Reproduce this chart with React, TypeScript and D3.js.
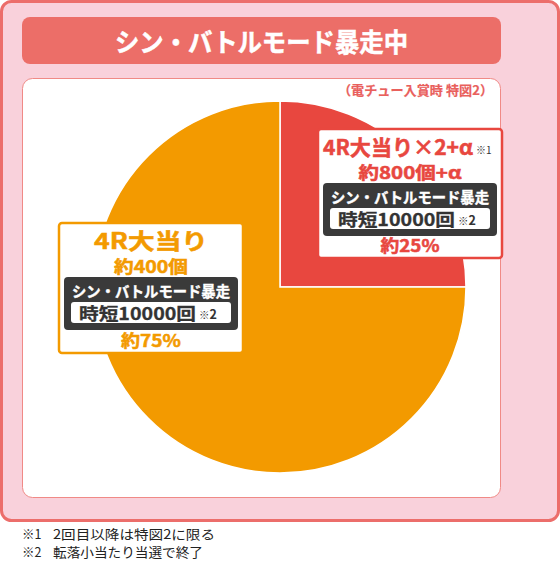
import { useMemo } from "react"
import * as d3 from "d3"

// slices, in clockwise order from 12 o'clock
const sliceKeys = ["bonus2", "bonus1"]
const sliceValues = [25, 75]
const sliceColors = ["#E8473F", "#F39A00"]

const titleText = "シン・バトルモード暴走中"
const subText = "（電チュー入賞時 特図2）"
const modeText = "シン・バトルモード暴走"
const jitanText = "時短10000回"

const labelMain = ["4R大当り×2+α", "4R大当り"]
const labelMainNote = ["※1", ""]
const labelBalls = ["約800個+α", "約400個"]
const labelPct = ["約25%", "約75%"]

const footMarks = ["※1", "※2"]
const footTexts = ["2回目以降は特図2に限る", "転落小当たり当選で終了"]

const FONT = "'Noto Sans CJK JP', 'Noto Sans', sans-serif"

export default function App() {
  const width = 560
  const height = 562
  const cx = 280
  const cy = 287
  const r = 186

  const arcs = useMemo(
    () =>
      d3
        .pie<number>()
        .sort(null)
        .value((d) => d)(sliceValues),
    []
  )
  const arc = d3.arc<d3.PieArcDatum<number>>().innerRadius(0).outerRadius(r)

  // label boxes
  const boxes = [
    { x: 318, y: 129, w: 184, h: 129, mainW: 150, ballsW: 103, pctW: 59 },
    { x: 59, y: 223, w: 184, h: 130, mainW: 114, ballsW: 74, pctW: 60 },
  ]

  const bold = (col: string) => ({
    fill: col,
    stroke: col,
    strokeWidth: 0.5,
    fontFamily: FONT,
    fontWeight: 700,
  })

  const label = (i: number) => {
    const b = boxes[i]
    const mx = b.x + b.w / 2
    const col = sliceColors[i]
    const red = i === 0
    const top = b.y
    const darkY = top + 54
    const darkX = b.x + 5
    const darkW = b.w - 10
    return (
      <g key={sliceKeys[i]}>
        <rect x={b.x} y={b.y} width={b.w} height={b.h} rx={3} fill="#fff" stroke={col} strokeWidth={2.5} />
        {red ? (
          <>
            <text x={b.x + 5} y={top + 26} {...bold(col)} fontSize={21} textLength={b.mainW} lengthAdjust="spacingAndGlyphs">
              {labelMain[i]}
            </text>
            <text x={b.x + 158} y={top + 25} fill="#333" fontFamily={FONT} fontSize={10}>
              {labelMainNote[i]}
            </text>
          </>
        ) : (
          <text x={mx} y={top + 26} {...bold(col)} fontSize={22} textAnchor="middle" textLength={b.mainW} lengthAdjust="spacingAndGlyphs">
            {labelMain[i]}
          </text>
        )}
        <text x={mx} y={top + 50} {...bold(col)} fontSize={17} textAnchor="middle" textLength={b.ballsW} lengthAdjust="spacingAndGlyphs">
          {labelBalls[i]}
        </text>
        <rect x={darkX} y={darkY} width={darkW} height={53} rx={4} fill="#3A3A3A" />
        <text
          x={mx}
          y={darkY + 20}
          {...bold("#fff")}
          strokeWidth={0.4}
          fontSize={15}
          textAnchor="middle"
          textLength={158}
          lengthAdjust="spacingAndGlyphs"
        >
          {modeText}
        </text>
        <rect x={darkX + 7} y={darkY + 25} width={darkW - 14} height={21} rx={3} fill="#fff" />
        <text x={darkX + 15} y={darkY + 43} {...bold("#333")} strokeWidth={0.3} fontSize={17} textLength={117} lengthAdjust="spacingAndGlyphs">
          {jitanText}
        </text>
        <text x={darkX + 135} y={darkY + 42} fill="#333" fontFamily={FONT} fontWeight={700} fontSize={10.5}>
          <tspan>※</tspan>
          <tspan fontSize={12.5}>2</tspan>
        </text>
        <text x={mx} y={top + b.h - 6} {...bold(col)} fontSize={17} textAnchor="middle" textLength={b.pctW} lengthAdjust="spacingAndGlyphs">
          {labelPct[i]}
        </text>
      </g>
    )
  }

  return (
    <svg
      width={width}
      height={height}
      viewBox={`0 0 ${width} ${height}`}
      style={{ position: "absolute", left: 0, top: 0, background: "#fff" }}
    >
      {/* outer frame */}
      <rect x={1.5} y={1.5} width={557} height={519} rx={10} fill="#F9D1DB" stroke="#EC6E6B" strokeWidth={3} />
      {/* title bar */}
      <rect x={22} y={17} width={479} height={47} rx={8} fill="#EC6E68" />
      <text
        x={261.5}
        y={52}
        {...bold("#fff")}
        fontSize={26}
        textAnchor="middle"
        textLength={293}
        lengthAdjust="spacingAndGlyphs"
      >
        {titleText}
      </text>
      {/* white panel */}
      <rect x={22.5} y={78.5} width={478} height={419} rx={10} fill="#fff" stroke="#F08A86" strokeWidth={1} />
      <text x={493} y={95} {...bold("#E9605C")} strokeWidth={0.2} fontSize={13} textAnchor="end" textLength={155} lengthAdjust="spacingAndGlyphs">
        {subText}
      </text>
      {/* pie */}
      <g transform={`translate(${cx},${cy})`}>
        {arcs.map((a, i) => (
          <path key={sliceKeys[i]} d={arc(a) ?? ""} fill={sliceColors[i]} stroke="#fff" strokeWidth={1.5} />
        ))}
      </g>
      {labelMain.map((_, i) => label(i))}
      {/* footnotes */}
      {footMarks.map((m, i) => (
        <g key={m}>
          <text x={22} y={539 + i * 18} fill="#222" fontFamily={FONT} fontSize={12.5}>
            {m}
          </text>
          <text
            x={53}
            y={539 + i * 18}
            fill="#222"
            fontFamily={FONT}
            fontSize={13}
            textLength={i === 0 ? 162 : 150}
            lengthAdjust="spacingAndGlyphs"
          >
            {footTexts[i]}
          </text>
        </g>
      ))}
    </svg>
  )
}
